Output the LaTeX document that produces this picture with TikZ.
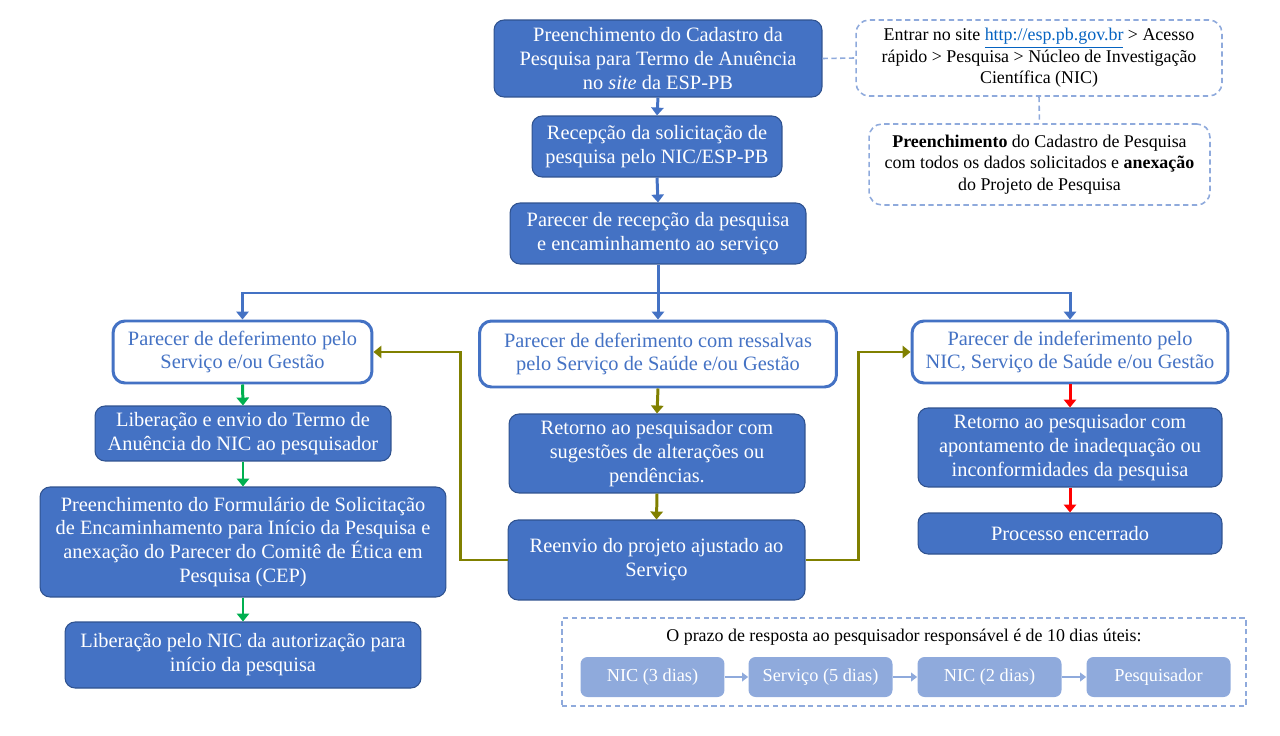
\documentclass[tikz,border=0pt]{standalone}
\usepackage{fontspec}
\setmainfont{Liberation Serif}
\usepackage{tikz}
\usetikzlibrary{arrows.meta, calc}
\definecolor{azul}{HTML}{4472C4}
\definecolor{azulesc}{HTML}{2F528F}
\definecolor{azulcl}{HTML}{8FAADC}
\definecolor{oliva}{HTML}{808000}
\definecolor{verde}{HTML}{00B050}
\definecolor{verm}{HTML}{FF0000}
\definecolor{link}{HTML}{0563C1}

\begin{document}
\begin{tikzpicture}[x=0.02cm, y=-0.02cm,
            caixa/.style={rectangle, rounded corners=0.2cm, fill=azul, draw=azulesc, line width=0.6pt, text=white, align=center, inner sep=0pt, font=\fontsize{11.6}{13.6}\selectfont},
            parecer/.style={rectangle, rounded corners=0.24cm, fill=white, draw=azul, line width=1.7pt, text=azul, align=center, inner sep=0pt, font=\fontsize{11.6}{13.6}\selectfont},
            nota/.style={rectangle, rounded corners=0.26cm, draw=azulcl, dash pattern=on 3pt off 2pt, line width=0.9pt, align=center, inner sep=0pt, font=\fontsize{10.2}{12.2}\selectfont},
            prazo/.style={rectangle, rounded corners=0.14cm, fill=azulcl, text=white, minimum width=2.88cm, minimum height=0.8cm, inner sep=0pt, font=\fontsize{10.4}{12}\selectfont},
            seta/.style={line width=1.7pt, -{Triangle[length=4.5pt,width=7pt]}},
            setafina/.style={azulcl, line width=0.9pt, -{Triangle[length=3.5pt,width=5pt]}}
            ]
            \useasboundingbox (0,0) rectangle (1280,736);
            \node[caixa, minimum width=6.56cm, minimum height=1.54cm] (cad) at (658,58.5) {Preenchimento do Cadastro da\\Pesquisa para Termo de Anuência\\no \textit{site} da ESP-PB};
            \node[nota, minimum width=7.32cm, minimum height=1.52cm] (site) at (1039,58) {Entrar no site \textcolor{link}{\underline{http://esp.pb.gov.br}} > Acesso\\rápido > Pesquisa > Núcleo de Investigação\\Científica (NIC)};
            \node[nota, minimum width=6.82cm, minimum height=1.62cm] (anexo) at (1039.5,164.5) {\textbf{Preenchimento} do Cadastro de Pesquisa\\com todos os dados solicitados e \textbf{anexação}\\do Projeto de Pesquisa};
            \node[caixa, minimum width=5cm, minimum height=1.22cm] (rece) at (657,146.5) {Recepção da solicitação de\\pesquisa pelo NIC/ESP-PB};
            \node[caixa, minimum width=5.92cm, minimum height=1.22cm] (parr) at (658,233.5) {Parecer de recepção da pesquisa\\e encaminhamento ao serviço};
            \node[parecer, minimum width=5.18cm, minimum height=1.24cm] (defe) at (242.5,352) {Parecer de deferimento pelo\\Serviço e/ou Gestão};
            \node[parecer, minimum width=7.14cm, minimum height=1.32cm] (ress) at (658,354) {Parecer de deferimento com ressalvas\\pelo Serviço de Saúde e/ou Gestão};
            \node[parecer, minimum width=6.32cm, minimum height=1.24cm] (inde) at (1070,352) {Parecer de indeferimento pelo\\NIC, Serviço de Saúde e/ou Gestão};
            \node[caixa, minimum width=5.92cm, minimum height=1.1cm] (libe) at (243,433.5) {Liberação e envio do Termo de\\Anuência do NIC ao pesquisador};
            \node[caixa, minimum width=8.12cm, minimum height=2.2cm] (form) at (243,542) {Preenchimento do Formulário de Solicitação\\de Encaminhamento para Início da Pesquisa e\\anexação do Parecer do Comitê de Ética em\\Pesquisa (CEP)};
            \node[caixa, minimum width=7.12cm, minimum height=1.32cm] (auto) at (243,655) {Liberação pelo NIC da autorização para\\início da pesquisa};
            \node[caixa, minimum width=5.92cm, minimum height=1.58cm] (suge) at (657,453.5) {Retorno ao pesquisador com\\sugestões de alterações ou\\pendências.};
            \node[caixa, minimum width=5.94cm, minimum height=1.6cm] (reenv) at (656.5,560) {Reenvio do projeto ajustado ao\\Serviço};
            \node[caixa, minimum width=6.08cm, minimum height=1.58cm] (apon) at (1070,447.5) {Retorno ao pesquisador com\\apontamento de inadequação ou\\inconformidades da pesquisa};
            \node[caixa, minimum width=6.08cm, minimum height=0.82cm] (ence) at (1070,533.5) {Processo encerrado};
            \node[rectangle, draw=azulcl, dash pattern=on 3pt off 2pt, line width=0.9pt, minimum width=13.68cm, minimum height=1.76cm, inner sep=0pt] (quadro) at (904,662) {};
            \node[font=\fontsize{10.2}{12}\selectfont] (titulo) at (904,637) {O prazo de resposta ao pesquisador responsável é de 10 dias úteis:};
            \node[prazo] (p1) at (652.5,677) {NIC (3 dias)};
            \node[prazo] (p2) at (820.5,677) {Serviço (5 dias)};
            \node[prazo] (p3) at (989.5,677) {NIC (2 dias)};
            \node[prazo] (p4) at (1158.5,677) {Pesquisador};
            \coordinate (ramo) at (658,293);
            \draw[azulcl, dash pattern=on 3pt off 2pt, line width=0.9pt] (cad.east) -- (site.west);
            \draw[azulcl, dash pattern=on 3pt off 2pt, line width=0.9pt] (site.south) -- (anexo.north);
            \draw[seta, azul] (cad.south) -- (rece.north);
            \draw[seta, azul] (rece.south) -- (parr.north);
            \draw[seta, azul] (parr.south) -- (ress.north);
            \draw[seta, azul] (ramo) -| (defe.north);
            \draw[seta, azul] (ramo) -| (inde.north);
            \draw[seta, verde] (defe.south) -- (libe.north);
            \draw[seta, verde] (libe.south) -- (form.north);
            \draw[seta, verde] (form.south) -- (auto.north);
            \draw[seta, oliva] (ress.south) -- (suge.north);
            \draw[seta, oliva] (suge.south) -- (reenv.north);
            \draw[seta, oliva] (reenv.west) -- (460,560) |- (defe.east);
            \draw[seta, oliva] (reenv.east) -- (858,560) |- (inde.west);
            \draw[seta, verm] (inde.south) -- (apon.north);
            \draw[seta, verm] (apon.south) -- (ence.north);
            \draw[setafina] (p1) -- (p2);
            \draw[setafina] (p2) -- (p3);
            \draw[setafina] (p3) -- (p4);
        \end{tikzpicture}
\end{document}
